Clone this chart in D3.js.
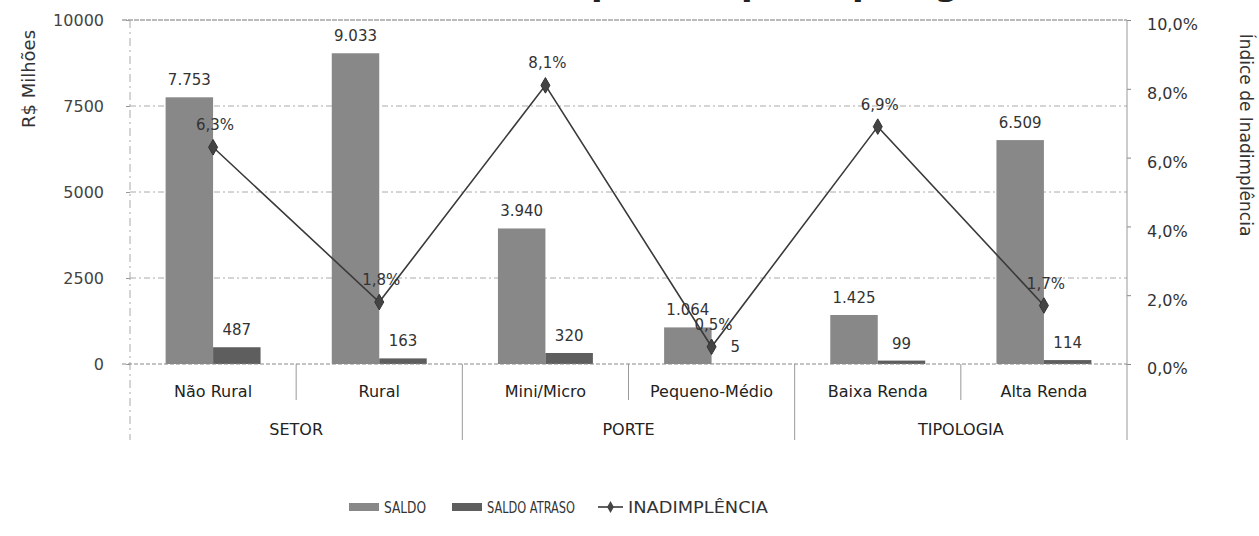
<!DOCTYPE html>
<html lang='pt'>
<head>
	<meta charset='utf-8'>
	<title>Saldo e Inadimplência</title>
	<script src="https://d3js.org/d3.v7.min.js"></script>
	<style>
		body{margin:0;background:#fff;}
		text{font-family:"DejaVu Sans",sans-serif;fill:#333;}
	</style>
</head>
<body>
<div id='chart'></div>
<script type='text/javascript'>
	// dados
	const categories = ['Não Rural','Rural','Mini/Micro','Pequeno-Médio','Baixa Renda','Alta Renda'];
	const categoryGroup = ['SETOR','SETOR','PORTE','PORTE','TIPOLOGIA','TIPOLOGIA'];
	const groups = ['SETOR','PORTE','TIPOLOGIA'];
	const saldo = [7753,9033,3940,1064,1425,6509];
	const saldoAtraso = [487,163,320,5,99,114];
	const inadimplencia = [6.3,1.8,8.1,0.5,6.9,1.7];
	const yTicks = [0,2500,5000,7500,10000];
	const y2Ticks = [0,2,4,6,8,10];
	const series = ['SALDO','SALDO ATRASO'];

	const svg_block = {width:1259,height:536};
	let margin = {top:20,right:132,bottom:172,left:130};
	let width = svg_block.width - margin.left - margin.right;
	let height = svg_block.height - margin.top - margin.bottom;
	let colors = {'SALDO':'#888888','SALDO ATRASO':'#5e5e5e'};

	const br = d3.formatLocale({decimal:',',thousands:'.',grouping:[3],currency:['R$','']});
	const fmtNum = br.format(',d');
	const fmtPct = v => br.format('.1f')(v) + '%';

	let svg = d3.select('#chart')
				.append('svg')
					.attr('width',svg_block.width)
					.attr('height',svg_block.height);

	// título (cortado no topo da imagem original, só aparecem as pontas)
	svg.append('text')
		.attr('x',650).attr('y',-5)
		.style('text-anchor','middle')
		.style('font-size','34px')
		.style('font-weight','bold')
		.style('fill','#222')
		.text('Saldo e Inadimplência por Tipologia');

	let g = svg.append('g').attr('transform',`translate(${margin.left},${margin.top})`);

	let x = d3.scaleBand().domain(categories).range([0,width]).padding(0);
	let sub = d3.scaleBand().domain(series).range([0,x.bandwidth()]).paddingInner(0).paddingOuter(0.75);
	let y = d3.scaleLinear().domain([0,10000]).range([height,0]);
	let y2 = d3.scaleLinear().domain([0,10]).range([height,0]);

	// grade
	g.append('g')
		.selectAll('line')
		.data(yTicks.filter(d => d > 0 && d < 10000))
		.enter()
		.append('line')
			.attr('x1',0).attr('x2',width)
			.attr('y1',d => y(d)).attr('y2',d => y(d))
			.style('stroke','#aaa')
			.style('stroke-dasharray','6,3,2,3');

	g.append('line')
		.attr('x1',-8).attr('x2',width)
		.attr('y1',y(10000)).attr('y2',y(10000))
		.style('stroke','#777').style('stroke-dasharray','5,1');

	// eixo esquerdo
	let leftAxis = g.append('g')
		.call(d3.axisLeft(y).tickValues(yTicks).tickSize(4).tickPadding(22).tickFormat(d3.format('d')));
	leftAxis.select('.domain').remove();
	leftAxis.selectAll('line').style('stroke','#999');
	leftAxis.selectAll('text').style('font-size','16px').style('fill','#444').style('font-family','DejaVu Sans');

	// eixo direito
	let rightAxis = g.append('g')
		.attr('transform',`translate(${width},0)`)
		.call(d3.axisRight(y2).tickValues(y2Ticks).tickSize(4).tickPadding(16).tickFormat(fmtPct));
	rightAxis.select('.domain').remove();
	rightAxis.selectAll('line').style('stroke','#888');
	rightAxis.selectAll('text').attr('dy','0.62em').style('font-size','16px').style('fill','#333').style('font-family','DejaVu Sans');

	// linhas verticais da moldura
	g.append('line')
		.attr('x1',0).attr('x2',0).attr('y1',0).attr('y2',height+76)
		.style('stroke','#aaa').style('stroke-dasharray','8,4,2,4');
	g.append('line')
		.attr('x1',width).attr('x2',width).attr('y1',0).attr('y2',height+76)
		.style('stroke','#999');

	// separadores de categorias e grupos
	g.append('g')
		.selectAll('line')
		.data(categories.slice(1))
		.enter()
		.append('line')
			.attr('x1',d => x(d)).attr('x2',d => x(d))
			.attr('y1',height)
			.attr('y2',(d,i) => categoryGroup[i+1] !== categoryGroup[i] ? height+76 : height+36)
			.style('stroke','#999');

	// barras
	let bars = g.append('g')
		.selectAll('g')
		.data(categories.map((c,i) => ({cat:c,values:[{key:'SALDO',value:saldo[i]},{key:'SALDO ATRASO',value:saldoAtraso[i]}]})))
		.enter()
		.append('g')
			.attr('transform',d => `translate(${x(d.cat)},0)`);

	bars.selectAll('rect')
		.data(d => d.values)
		.enter()
		.append('rect')
			.attr('x',d => sub(d.key))
			.attr('y',d => y(d.value))
			.attr('width',sub.bandwidth())
			.attr('height',d => height - y(d.value))
			.attr('fill',d => colors[d.key]);

	bars.selectAll('text')
		.data(d => d.values)
		.enter()
		.append('text')
			.attr('x',d => sub(d.key) + sub.bandwidth()/2)
			.attr('y',d => y(d.value) - 12)
			.style('text-anchor','middle')
			.style('font-size','15px')
			.text(d => fmtNum(d.value));

	// linha zero
	g.append('line')
		.attr('x1',-8).attr('x2',width)
		.attr('y1',height).attr('y2',height)
		.style('stroke','#888').style('stroke-dasharray','4,2');

	// rótulos das categorias
	g.append('g')
		.selectAll('text')
		.data(categories)
		.enter()
		.append('text')
			.attr('x',d => x(d) + x.bandwidth()/2)
			.attr('y',height + 33)
			.style('text-anchor','middle')
			.style('font-size','16px')
			.style('fill','#222')
			.text(d => d);

	g.append('g')
		.selectAll('text')
		.data(groups)
		.enter()
		.append('text')
			.attr('x',d => {
				let idx = categories.filter((c,i) => categoryGroup[i] === d).map(c => x(c));
				return (d3.min(idx) + d3.max(idx) + x.bandwidth())/2;
			})
			.attr('y',height + 71)
			.style('text-anchor','middle')
			.style('font-size','16px')
			.style('fill','#222')
			.text(d => d);

	// linha de inadimplência
	let line = d3.line()
		.x((d,i) => x(categories[i]) + x.bandwidth()/2)
		.y(d => y2(d));

	g.append('path')
		.datum(inadimplencia)
		.attr('d',line)
		.style('fill','none')
		.style('stroke','#3a3a3a')
		.style('stroke-width',1.6);

	g.append('g')
		.selectAll('path')
		.data(inadimplencia)
		.enter()
		.append('path')
			.attr('d',d3.symbol().type(d3.symbolDiamond).size(70))
			.attr('transform',(d,i) => `translate(${x(categories[i]) + x.bandwidth()/2},${y2(d)})`)
			.style('fill','#444')
			.style('stroke','#333');

	g.append('g')
		.selectAll('text')
		.data(inadimplencia)
		.enter()
		.append('text')
			.attr('x',(d,i) => x(categories[i]) + x.bandwidth()/2 + 2)
			.attr('y',d => y2(d) - 17)
			.style('text-anchor','middle')
			.style('font-size','15px')
			.text(d => fmtPct(d));

	// títulos dos eixos
	svg.append('text')
		.attr('transform','translate(35,79) rotate(-90)')
		.style('text-anchor','middle')
		.style('font-size','18px')
		.style('fill','#333')
		.text('R$ Milhões');

	svg.append('text')
		.attr('transform','translate(1240,135) rotate(90)')
		.style('text-anchor','middle')
		.style('font-size','17px')
		.style('fill','#333')
		.text('Índice de Inadimplência');

	// legenda
	let legend = svg.append('g').attr('transform','translate(349,507)');
	legend.append('rect').attr('x',0).attr('y',-4).attr('width',30).attr('height',8).style('fill',colors['SALDO']);
	legend.append('text').attr('x',35).attr('y',0).attr('dy','0.35em').attr('textLength',42).attr('lengthAdjust','spacingAndGlyphs').style('font-size','16px').text('SALDO');
	legend.append('rect').attr('x',103).attr('y',-4).attr('width',30).attr('height',8).style('fill',colors['SALDO ATRASO']);
	legend.append('text').attr('x',138).attr('y',0).attr('dy','0.35em').attr('textLength',88).attr('lengthAdjust','spacingAndGlyphs').style('font-size','16px').text('SALDO ATRASO');
	legend.append('line').attr('x1',249).attr('x2',274).attr('y1',0).attr('y2',0).style('stroke','#3a3a3a').style('stroke-width',1.6);
	legend.append('path').attr('d',d3.symbol().type(d3.symbolDiamond).size(40)).attr('transform','translate(261.5,0)').style('fill','#444');
	legend.append('text').attr('x',279).attr('y',0).attr('dy','0.35em').attr('textLength',140).attr('lengthAdjust','spacingAndGlyphs').style('font-size','16px').text('INADIMPLÊNCIA');
</script>
</body>
</html>
